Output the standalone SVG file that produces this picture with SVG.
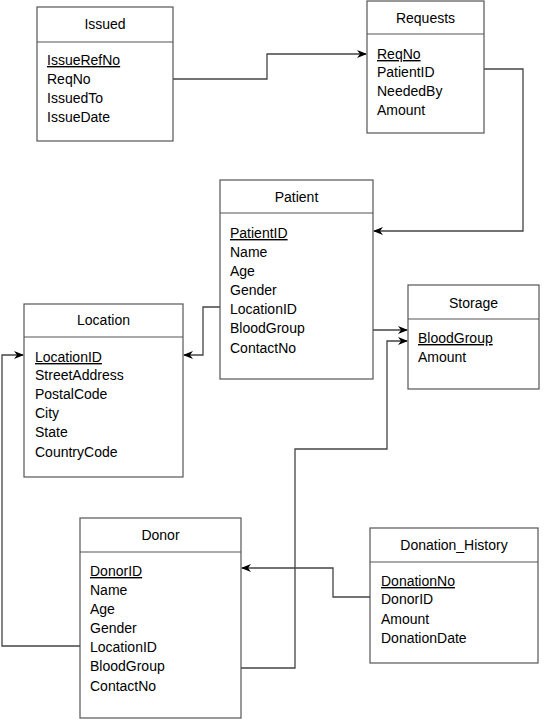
<svg xmlns="http://www.w3.org/2000/svg" width="544" height="719" viewBox="0 0 544 719">
<style>
.box{fill:#fff;stroke:#555;stroke-width:1.2}
.div{stroke:#555;stroke-width:1.2}
.t{font-family:"Liberation Sans",Arial,sans-serif;font-size:14px;fill:#000}
.h{text-anchor:middle}
.pk{text-decoration:underline}
.c{fill:none;stroke:#444;stroke-width:1.3}
</style>
<defs>
<marker id="arr" viewBox="0 0 10 10" refX="9" refY="5" markerWidth="10" markerHeight="10" markerUnits="userSpaceOnUse" orient="auto">
<path d="M0,1 L10,5 L0,9 L3,5 z" fill="#000"/>
</marker>
</defs>
<rect width="544" height="719" fill="#fff"/>
<g id="connectors">
<path class="c" d="M173,79 H267 V54 H366" marker-end="url(#arr)"/>
<path class="c" d="M484,69 H523 V231 H374" marker-end="url(#arr)"/>
<path class="c" d="M220,307 H203 V355 H184" marker-end="url(#arr)"/>
<path class="c" d="M373,330 H407" marker-end="url(#arr)"/>
<path class="c" d="M241,668 H295 V449 H387 V341 H407" marker-end="url(#arr)"/>
<path class="c" d="M80,646 H2 V355 H23" marker-end="url(#arr)"/>
<path class="c" d="M370,597 H333 V568 H242" marker-end="url(#arr)"/>
</g>
<g id="issued">
<rect class="box" x="37" y="7" width="136" height="134"/>
<line class="div" x1="37" y1="42" x2="173" y2="42"/>
<text class="t h" x="105" y="29">Issued</text>
<text class="t pk" x="47" y="65">IssueRefNo</text>
<text class="t" x="47" y="84">ReqNo</text>
<text class="t" x="47" y="103">IssuedTo</text>
<text class="t" x="47" y="122">IssueDate</text>
</g>
<g id="requests">
<rect class="box" x="367" y="1" width="117" height="132"/>
<line class="div" x1="367" y1="34" x2="484" y2="34"/>
<text class="t h" x="425.5" y="23">Requests</text>
<text class="t pk" x="377" y="59">ReqNo</text>
<text class="t" x="377" y="77">PatientID</text>
<text class="t" x="377" y="96">NeededBy</text>
<text class="t" x="377" y="115">Amount</text>
</g>
<g id="patient">
<rect class="box" x="220" y="180" width="153" height="199"/>
<line class="div" x1="220" y1="213" x2="373" y2="213"/>
<text class="t h" x="296.5" y="202">Patient</text>
<text class="t pk" x="230" y="238">PatientID</text>
<text class="t" x="230" y="257">Name</text>
<text class="t" x="230" y="276">Age</text>
<text class="t" x="230" y="295">Gender</text>
<text class="t" x="230" y="314">LocationID</text>
<text class="t" x="230" y="333">BloodGroup</text>
<text class="t" x="230" y="353">ContactNo</text>
</g>
<g id="location">
<rect class="box" x="24" y="304" width="159" height="173"/>
<line class="div" x1="24" y1="337" x2="183" y2="337"/>
<text class="t h" x="103.5" y="325">Location</text>
<text class="t pk" x="35" y="362">LocationID</text>
<text class="t" x="35" y="380">StreetAddress</text>
<text class="t" x="35" y="399">PostalCode</text>
<text class="t" x="35" y="418">City</text>
<text class="t" x="35" y="437">State</text>
<text class="t" x="35" y="457">CountryCode</text>
</g>
<g id="storage">
<rect class="box" x="408" y="285" width="131" height="104"/>
<line class="div" x1="408" y1="319" x2="539" y2="319"/>
<text class="t h" x="473.5" y="308">Storage</text>
<text class="t pk" x="418" y="343">BloodGroup</text>
<text class="t" x="418" y="362">Amount</text>
</g>
<g id="donor">
<rect class="box" x="80" y="518" width="161" height="200"/>
<line class="div" x1="80" y1="552" x2="241" y2="552"/>
<text class="t h" x="160.5" y="540">Donor</text>
<text class="t pk" x="90" y="576">DonorID</text>
<text class="t" x="90" y="595">Name</text>
<text class="t" x="90" y="614">Age</text>
<text class="t" x="90" y="633">Gender</text>
<text class="t" x="90" y="652">LocationID</text>
<text class="t" x="90" y="671">BloodGroup</text>
<text class="t" x="90" y="691">ContactNo</text>
</g>
<g id="donation_history">
<rect class="box" x="370" y="528" width="168" height="135"/>
<line class="div" x1="370" y1="562" x2="538" y2="562"/>
<text class="t h" x="454" y="550">Donation_History</text>
<text class="t pk" x="381" y="586">DonationNo</text>
<text class="t" x="381" y="604">DonorID</text>
<text class="t" x="381" y="624">Amount</text>
<text class="t" x="381" y="643">DonationDate</text>
</g>
</svg>
